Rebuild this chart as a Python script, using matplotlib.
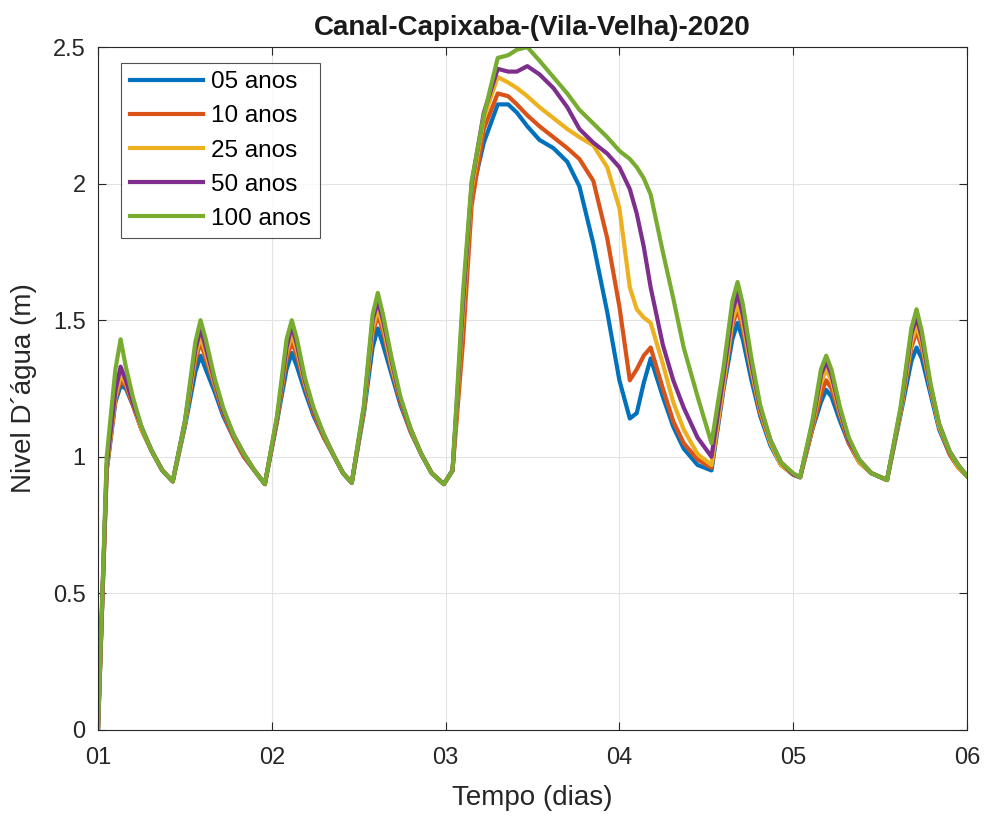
import matplotlib
matplotlib.use("Agg")
import matplotlib.pyplot as plt

plt.rcParams['font.family'] = ['Liberation Sans', 'DejaVu Sans']

# tempo (dias) - comum a todas as series
t = [1.00, 1.05, 1.10, 1.13, 1.16, 1.20, 1.25, 1.31, 1.37, 1.43,
     1.50, 1.56, 1.59, 1.62, 1.67, 1.72, 1.78, 1.84, 1.90, 1.96,
     2.03, 2.085, 2.115, 2.145, 2.19, 2.24, 2.30, 2.36, 2.41, 2.46,
     2.53, 2.58, 2.61, 2.64, 2.69, 2.74, 2.80, 2.86, 2.92, 2.99,
     3.04, 3.10, 3.15, 3.22, 3.30, 3.36, 3.41, 3.47, 3.54, 3.62, 3.70, 3.77,
     3.85, 3.93, 4.00, 4.06, 4.10, 4.14, 4.18, 4.25, 4.31, 4.37, 4.45, 4.53,
     4.60, 4.65, 4.68, 4.71, 4.76, 4.81, 4.87, 4.93, 5.00, 5.04,
     5.11, 5.16, 5.19, 5.22, 5.27, 5.32, 5.38, 5.45, 5.54,
     5.62, 5.68, 5.71, 5.74, 5.79, 5.84, 5.90, 5.95, 6.00]

anos05 = [0.00, 0.95, 1.20, 1.26, 1.25, 1.19, 1.10, 1.02, 0.95, 0.91,
          1.11, 1.31, 1.37, 1.32, 1.24, 1.15, 1.07, 1.00, 0.95, 0.90,
          1.13, 1.32, 1.38, 1.33, 1.24, 1.15, 1.07, 1.00, 0.94, 0.905,
          1.16, 1.40, 1.47, 1.41, 1.30, 1.19, 1.09, 1.01, 0.94, 0.90,
          0.95, 1.50, 1.96, 2.15, 2.29, 2.29, 2.26, 2.21, 2.16, 2.13, 2.08, 1.99,
          1.78, 1.53, 1.28, 1.14, 1.16, 1.27, 1.36, 1.22, 1.11, 1.03, 0.97, 0.95,
          1.25, 1.43, 1.49, 1.43, 1.28, 1.15, 1.04, 0.97, 0.935, 0.925,
          1.10, 1.20, 1.245, 1.22, 1.13, 1.05, 0.98, 0.94, 0.915,
          1.16, 1.35, 1.40, 1.36, 1.23, 1.10, 1.01, 0.96, 0.93]

anos10 = [0.00, 0.95, 1.21, 1.28, 1.26, 1.19, 1.10, 1.02, 0.95, 0.91,
          1.12, 1.35, 1.42, 1.36, 1.26, 1.16, 1.07, 1.00, 0.95, 0.90,
          1.13, 1.36, 1.42, 1.37, 1.26, 1.16, 1.07, 1.00, 0.94, 0.905,
          1.17, 1.45, 1.52, 1.46, 1.32, 1.20, 1.09, 1.01, 0.94, 0.90,
          0.95, 1.42, 1.92, 2.20, 2.33, 2.32, 2.29, 2.25, 2.21, 2.17, 2.13, 2.09,
          2.01, 1.80, 1.55, 1.28, 1.32, 1.37, 1.40, 1.25, 1.13, 1.05, 0.99, 0.96,
          1.26, 1.48, 1.54, 1.47, 1.31, 1.16, 1.05, 0.97, 0.935, 0.925,
          1.10, 1.23, 1.28, 1.25, 1.15, 1.05, 0.98, 0.94, 0.915,
          1.17, 1.40, 1.46, 1.40, 1.25, 1.11, 1.01, 0.96, 0.93]

anos25 = [0.00, 0.96, 1.22, 1.30, 1.27, 1.20, 1.10, 1.02, 0.95, 0.91,
          1.12, 1.37, 1.44, 1.38, 1.27, 1.17, 1.08, 1.01, 0.95, 0.90,
          1.14, 1.38, 1.45, 1.39, 1.27, 1.17, 1.08, 1.00, 0.94, 0.905,
          1.17, 1.47, 1.54, 1.48, 1.33, 1.21, 1.10, 1.01, 0.94, 0.90,
          0.95, 1.52, 1.98, 2.24, 2.39, 2.37, 2.35, 2.32, 2.28, 2.24, 2.20, 2.17,
          2.14, 2.06, 1.91, 1.62, 1.54, 1.51, 1.49, 1.34, 1.20, 1.10, 1.01, 0.97,
          1.27, 1.50, 1.56, 1.49, 1.32, 1.17, 1.05, 0.97, 0.935, 0.925,
          1.11, 1.27, 1.32, 1.28, 1.16, 1.06, 0.98, 0.94, 0.915,
          1.17, 1.42, 1.48, 1.42, 1.25, 1.11, 1.02, 0.96, 0.93]

anos50 = [0.00, 0.97, 1.24, 1.33, 1.28, 1.20, 1.11, 1.02, 0.95, 0.91,
          1.13, 1.39, 1.47, 1.40, 1.28, 1.17, 1.08, 1.01, 0.95, 0.90,
          1.14, 1.40, 1.48, 1.41, 1.28, 1.17, 1.08, 1.00, 0.94, 0.905,
          1.18, 1.50, 1.57, 1.50, 1.35, 1.21, 1.10, 1.01, 0.94, 0.90,
          0.95, 1.56, 2.00, 2.26, 2.42, 2.41, 2.41, 2.43, 2.40, 2.35, 2.28, 2.20,
          2.15, 2.11, 2.06, 1.98, 1.89, 1.77, 1.62, 1.41, 1.28, 1.18, 1.07, 1.00,
          1.30, 1.53, 1.60, 1.52, 1.34, 1.18, 1.06, 0.98, 0.935, 0.925,
          1.12, 1.30, 1.35, 1.30, 1.17, 1.06, 0.99, 0.94, 0.915,
          1.18, 1.45, 1.51, 1.44, 1.26, 1.12, 1.02, 0.97, 0.93]

anos100 = [0.00, 1.00, 1.32, 1.43, 1.33, 1.22, 1.11, 1.02, 0.95, 0.91,
           1.13, 1.42, 1.50, 1.43, 1.29, 1.18, 1.08, 1.01, 0.95, 0.90,
           1.15, 1.43, 1.50, 1.43, 1.29, 1.18, 1.08, 1.00, 0.94, 0.905,
           1.19, 1.52, 1.60, 1.52, 1.36, 1.22, 1.10, 1.01, 0.94, 0.90,
           0.95, 1.60, 2.01, 2.25, 2.46, 2.47, 2.49, 2.50, 2.45, 2.39, 2.33, 2.27,
           2.22, 2.17, 2.12, 2.09, 2.06, 2.02, 1.96, 1.75, 1.58, 1.40, 1.22, 1.05,
           1.33, 1.57, 1.64, 1.56, 1.36, 1.19, 1.06, 0.98, 0.94, 0.925,
           1.13, 1.32, 1.37, 1.32, 1.18, 1.07, 0.99, 0.94, 0.915,
           1.19, 1.47, 1.54, 1.46, 1.27, 1.12, 1.02, 0.97, 0.93]

series = [anos05, anos10, anos25, anos50, anos100]
labels = ["05 anos", "10 anos", "25 anos", "50 anos", "100 anos"]
colors = ["#0072BD", "#D95319", "#EDB120", "#7E2F8E", "#77AC30"]
xticks = [1, 2, 3, 4, 5, 6]
xticklabels = ["01", "02", "03", "04", "05", "06"]
yticks = [0, 0.5, 1, 1.5, 2, 2.5]
yticklabels = ["0", "0.5", "1", "1.5", "2", "2.5"]

fig = plt.figure(figsize=(9.87, 8.19), dpi=100)
ax = fig.add_axes([0.0993, 0.1087, 0.8804, 0.8339])

for y, lab, c in zip(series, labels, colors):
    ax.plot(t, y, color=c, linewidth=3.0, label=lab, solid_joinstyle="round")

ax.set_xlim(1, 6)
ax.set_ylim(0, 2.5)
ax.set_xticks(xticks)
ax.set_xticklabels(xticklabels)
ax.set_yticks(yticks)
ax.set_yticklabels(yticklabels)
ax.grid(True, color="#e3e3e3", linewidth=0.8)
ax.set_axisbelow(True)
ax.tick_params(direction="in", top=True, right=True, labelsize=17,
               colors="#262626", length=6, width=0.8)
ax.tick_params(axis="x", pad=12)
ax.tick_params(axis="y", pad=9)
for s in ax.spines.values():
    s.set_color("#262626")
    s.set_linewidth(0.8)

ax.set_title("Canal-Capixaba-(Vila-Velha)-2020", fontsize=20, fontweight="bold",
             color="#1a1a1a", pad=9)
ax.set_xlabel("Tempo (dias)", fontsize=20, color="#262626", labelpad=12)
ax.set_ylabel("Nivel D´água (m)", fontsize=20, color="#262626", labelpad=11)

leg = ax.legend(loc="upper left", bbox_to_anchor=(0.027, 0.977), fontsize=17.5,
                frameon=True, fancybox=False, edgecolor="#262626",
                handlelength=3.0, borderpad=0.35, labelspacing=0.5,
                handletextpad=0.35, borderaxespad=0)
leg.get_frame().set_linewidth(0.8)

fig.savefig("out.png", dpi=100)
